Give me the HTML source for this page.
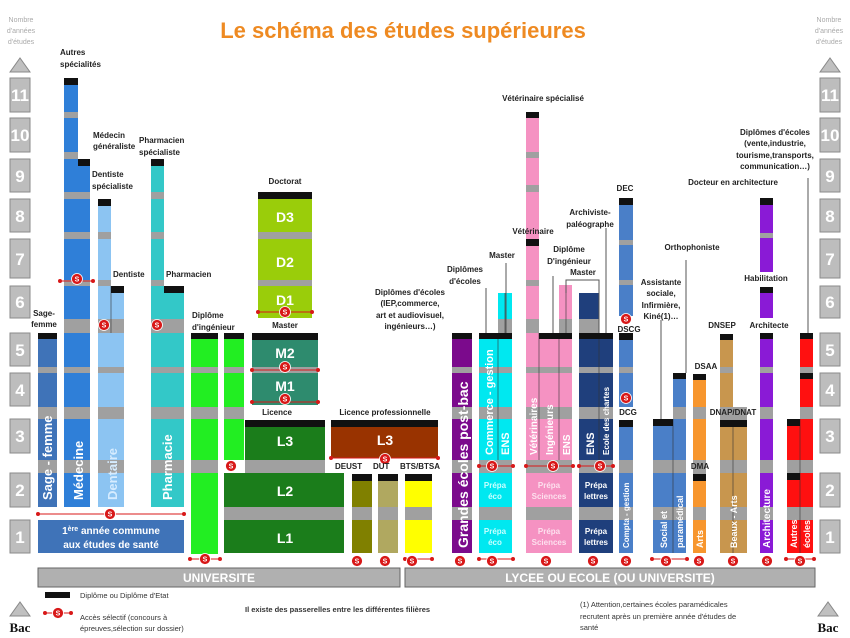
<!DOCTYPE html>
<html><head><meta charset="utf-8">
<style>
html,body{margin:0;padding:0;background:#fff;}
svg{display:block;font-family:"Liberation Sans",Arial,sans-serif;}
.g{fill:#a0a0a0}
.k{fill:#111}
.lb{font-size:8px;font-weight:bold;fill:#222}
.nb{fill:#bdbdbd;stroke:#8a8a8a;stroke-width:1}
.nt{font-size:17px;font-weight:bold;fill:#fff;text-anchor:middle}
.bw{font-weight:bold;fill:#fff;text-anchor:middle}
.vt{font-weight:bold;fill:#fff}
.sc{fill:#d81818;stroke:#fff;stroke-width:0.8}
.st{font-size:7px;font-weight:bold;fill:#fff;text-anchor:middle}
.rl{stroke:#d81818;stroke-width:1}
.ln{stroke:#555;stroke-width:1;fill:none}
.dv{stroke:#333;stroke-width:0.6}
</style></head><body>
<svg width="850" height="638" viewBox="0 0 850 638" xmlns="http://www.w3.org/2000/svg">
<!-- title -->
<text x="403" y="38" font-size="22" font-weight="bold" fill="#ee8a22" text-anchor="middle">Le schéma des études supérieures</text>
<g font-size="7" fill="#aaa" text-anchor="middle">
<text x="21" y="22">Nombre</text><text x="21" y="33">d'années</text><text x="21" y="44">d'études</text>
<text x="829" y="22">Nombre</text><text x="829" y="33">d'années</text><text x="829" y="44">d'études</text>
</g>
<polygon points="10,72 20,58 30,72" fill="#c0c0c0" stroke="#888"/>
<polygon points="820,72 830,58 840,72" fill="#c0c0c0" stroke="#888"/>

<!-- number boxes -->
<g>
<rect class="nb" x="10" y="78" width="20" height="34"/><rect class="nb" x="820" y="78" width="20" height="34"/>
<rect class="nb" x="10" y="118" width="20" height="34"/><rect class="nb" x="820" y="118" width="20" height="34"/>
<rect class="nb" x="10" y="159" width="20" height="33"/><rect class="nb" x="820" y="159" width="20" height="33"/>
<rect class="nb" x="10" y="199" width="20" height="33"/><rect class="nb" x="820" y="199" width="20" height="33"/>
<rect class="nb" x="10" y="239" width="20" height="39"/><rect class="nb" x="820" y="239" width="20" height="39"/>
<rect class="nb" x="10" y="286" width="20" height="32"/><rect class="nb" x="820" y="286" width="20" height="32"/>
<rect class="nb" x="10" y="333" width="20" height="33"/><rect class="nb" x="820" y="333" width="20" height="33"/>
<rect class="nb" x="10" y="373" width="20" height="33"/><rect class="nb" x="820" y="373" width="20" height="33"/>
<rect class="nb" x="10" y="419" width="20" height="34"/><rect class="nb" x="820" y="419" width="20" height="34"/>
<rect class="nb" x="10" y="473" width="20" height="34"/><rect class="nb" x="820" y="473" width="20" height="34"/>
<rect class="nb" x="10" y="520" width="20" height="33"/><rect class="nb" x="820" y="520" width="20" height="33"/>
</g>
<g class="nt">
<text x="20" y="101">11</text><text x="830" y="101">11</text>
<text x="20" y="141">10</text><text x="830" y="141">10</text>
<text x="20" y="182">9</text><text x="830" y="182">9</text>
<text x="20" y="222">8</text><text x="830" y="222">8</text>
<text x="20" y="265">7</text><text x="830" y="265">7</text>
<text x="20" y="308">6</text><text x="830" y="308">6</text>
<text x="20" y="356">5</text><text x="830" y="356">5</text>
<text x="20" y="396">4</text><text x="830" y="396">4</text>
<text x="20" y="442">3</text><text x="830" y="442">3</text>
<text x="20" y="496">2</text><text x="830" y="496">2</text>
<text x="20" y="543">1</text><text x="830" y="543">1</text>
</g>

<!-- Sage-femme -->
<rect x="38" y="333" width="19" height="174" fill="#3f73b8"/>
<rect class="g" x="38" y="460" width="19" height="13"/><rect class="g" x="38" y="407" width="19" height="12"/><rect class="g" x="38" y="367" width="19" height="6"/>
<rect class="k" x="38" y="333" width="19" height="6"/>
<!-- Médecine -->
<rect x="64" y="78" width="14" height="429" fill="#2f7fd8"/>
<rect x="78" y="159" width="12" height="348" fill="#2f7fd8"/>
<g class="g"><rect x="64" y="460" width="26" height="13"/><rect x="64" y="407" width="26" height="12"/><rect x="64" y="367" width="26" height="6"/><rect x="64" y="319" width="26" height="14"/><rect x="64" y="280" width="26" height="6"/><rect x="64" y="232" width="26" height="7"/><rect x="64" y="192" width="26" height="7"/><rect x="64" y="152" width="14" height="7"/><rect x="64" y="112" width="14" height="6"/></g>
<rect class="k" x="64" y="78" width="14" height="7"/><rect class="k" x="78" y="159" width="12" height="7"/>
<!-- Dentaire -->
<rect x="98" y="199" width="13" height="308" fill="#8cc4f2"/>
<rect x="111" y="286" width="13" height="221" fill="#8cc4f2"/>
<g class="g"><rect x="98" y="460" width="26" height="13"/><rect x="98" y="407" width="26" height="12"/><rect x="98" y="367" width="26" height="6"/><rect x="98" y="319" width="26" height="14"/><rect x="98" y="280" width="13" height="6"/><rect x="98" y="232" width="13" height="7"/></g>
<line class="dv" x1="111" y1="286" x2="111" y2="333"/>
<rect class="k" x="98" y="199" width="13" height="7"/><rect class="k" x="111" y="286" width="13" height="7"/>
<!-- Pharmacie -->
<rect x="151" y="159" width="13" height="348" fill="#33c8c8"/>
<rect x="164" y="286" width="20" height="221" fill="#33c8c8"/>
<g class="g"><rect x="151" y="460" width="33" height="13"/><rect x="151" y="407" width="33" height="12"/><rect x="151" y="367" width="33" height="6"/><rect x="151" y="319" width="33" height="14"/><rect x="151" y="280" width="13" height="6"/><rect x="151" y="232" width="13" height="7"/><rect x="151" y="192" width="13" height="7"/></g>
<rect class="k" x="151" y="159" width="13" height="7"/><rect class="k" x="164" y="286" width="20" height="7"/>
<!-- common year -->
<rect x="38" y="520" width="146" height="33" fill="#3f73b8"/>
<text class="bw" x="111" y="534" font-size="10">1<tspan font-size="7" dy="-3">ère</tspan><tspan dy="3"> année commune</tspan></text>
<text class="bw" x="111" y="548" font-size="10">aux études de santé</text>
<g class="vt" font-size="13">
<text transform="translate(52,500) rotate(-90)">Sage - femme</text>
<text transform="translate(83,500) rotate(-90)">Médecine</text>
<text transform="translate(117,500) rotate(-90)" fill="#d6ecff">Dentaire</text>
<text transform="translate(172,500) rotate(-90)">Pharmacie</text>
</g>

<!-- Ingénieur -->
<rect x="191" y="333" width="27" height="221" fill="#22ee22"/>
<g class="g"><rect x="191" y="460" width="27" height="13"/><rect x="191" y="407" width="27" height="12"/><rect x="191" y="367" width="27" height="6"/></g>
<rect class="k" x="191" y="333" width="27" height="6"/>
<rect x="224" y="333" width="20" height="127" fill="#22ee22"/>
<g class="g"><rect x="224" y="407" width="20" height="12"/><rect x="224" y="367" width="20" height="6"/></g>
<rect class="k" x="224" y="333" width="20" height="6"/>
<!-- Licence -->
<rect x="245" y="420" width="80" height="40" fill="#1b7d1b"/><rect class="k" x="245" y="420" width="80" height="7"/>
<rect class="g" x="245" y="460" width="80" height="13"/>
<rect x="224" y="473" width="120" height="34" fill="#1b7d1b"/>
<rect class="g" x="224" y="507" width="120" height="13"/>
<rect x="224" y="520" width="120" height="33" fill="#1b7d1b"/>
<!-- Master -->
<rect x="252" y="333" width="66" height="72" fill="#2e8b6e"/><rect class="k" x="252" y="333" width="66" height="7"/>
<rect class="g" x="252" y="367" width="66" height="6"/>
<!-- Doctorat -->
<rect x="258" y="192" width="54" height="126" fill="#9acd0a"/><rect class="k" x="258" y="192" width="54" height="7"/>
<rect class="g" x="258" y="232" width="54" height="7"/><rect class="g" x="258" y="280" width="54" height="6"/>
<g class="bw" font-size="14">
<text x="285" y="222">D3</text><text x="285" y="267">D2</text><text x="285" y="305">D1</text>
<text x="285" y="358">M2</text><text x="285" y="391">M1</text>
<text x="285" y="446">L3</text><text x="285" y="496">L2</text><text x="285" y="543">L1</text>
<text x="385" y="445">L3</text>
</g>
<!-- Licence pro -->
<rect x="331" y="420" width="107" height="38" fill="#993300"/><rect class="k" x="331" y="420" width="107" height="7"/>
<g font-size="14" class="bw"><text x="385" y="445">L3</text></g>
<!-- DEUST DUT BTS -->
<rect x="352" y="474" width="20" height="79" fill="#808000"/><rect class="g" x="352" y="507" width="20" height="13"/><rect class="k" x="352" y="474" width="20" height="7"/>
<rect x="378" y="474" width="20" height="79" fill="#b0a860"/><rect class="g" x="378" y="507" width="20" height="13"/><rect class="k" x="378" y="474" width="20" height="7"/>
<rect x="405" y="474" width="27" height="79" fill="#ffff00"/><rect class="g" x="405" y="507" width="27" height="13"/><rect class="k" x="405" y="474" width="27" height="7"/>

<!-- Grandes écoles -->
<rect x="452" y="333" width="20" height="220" fill="#7b0a8c"/>
<g class="g"><rect x="452" y="507" width="20" height="13"/><rect x="452" y="460" width="20" height="13"/><rect x="452" y="407" width="20" height="12"/><rect x="452" y="367" width="20" height="6"/></g>
<rect class="k" x="452" y="333" width="20" height="6"/>
<text class="vt" font-size="14" transform="translate(468,548) rotate(-90)">Grandes écoles post-bac</text>
<!-- Commerce -->
<rect x="479" y="333" width="33" height="220" fill="#00e8f0"/>
<rect x="498" y="293" width="14" height="40" fill="#00e8f0"/>
<g class="g"><rect x="479" y="507" width="33" height="13"/><rect x="479" y="460" width="33" height="13"/><rect x="479" y="407" width="33" height="12"/><rect x="479" y="367" width="33" height="6"/><rect x="498" y="319" width="14" height="14"/></g>
<line class="dv" x1="498" y1="333" x2="498" y2="460"/><line class="dv" x1="505" y1="293" x2="505" y2="333"/>
<rect class="k" x="479" y="333" width="33" height="6"/>
<text class="vt" font-size="11" transform="translate(493,455) rotate(-90)" fill="#c8ffff">Commerce - gestion</text>
<text class="vt" font-size="11" transform="translate(509,455) rotate(-90)" fill="#c8ffff">ENS</text>
<g font-size="8" font-weight="bold" fill="#c8ffff" text-anchor="middle">
<text x="495" y="488">Prépa</text><text x="495" y="499">éco</text>
<text x="495" y="534">Prépa</text><text x="495" y="545">éco</text>
</g>
<!-- Pink -->
<rect x="526" y="333" width="46" height="220" fill="#f592c2"/>
<rect x="526" y="112" width="13" height="221" fill="#f592c2"/>
<rect x="559" y="285" width="13" height="48" fill="#f592c2"/>
<g class="g"><rect x="526" y="507" width="46" height="13"/><rect x="526" y="460" width="46" height="13"/><rect x="526" y="407" width="46" height="12"/><rect x="526" y="367" width="46" height="6"/><rect x="526" y="319" width="13" height="14"/><rect x="559" y="319" width="13" height="14"/><rect x="526" y="280" width="13" height="6"/><rect x="526" y="185" width="13" height="7"/><rect x="526" y="152" width="13" height="6"/></g>
<line class="dv" x1="539" y1="333" x2="539" y2="460"/><line class="dv" x1="559" y1="333" x2="559" y2="460"/><line class="dv" x1="566" y1="285" x2="566" y2="333"/>
<rect class="k" x="526" y="112" width="13" height="6"/><rect class="k" x="526" y="239" width="13" height="7"/>
<rect class="k" x="539" y="333" width="33" height="6"/>
<g class="vt" font-size="10" fill="#fde0ee">
<text transform="translate(537,455) rotate(-90)">Vétérinaires</text>
<text transform="translate(553,455) rotate(-90)">Ingénieurs</text>
<text transform="translate(570,455) rotate(-90)">ENS</text>
</g>
<g font-size="8" font-weight="bold" fill="#fde0ee" text-anchor="middle">
<text x="549" y="488">Prépa</text><text x="549" y="499">Sciences</text>
<text x="549" y="534">Prépa</text><text x="549" y="545">Sciences</text>
</g>
<!-- ENS chartes -->
<rect x="579" y="333" width="34" height="220" fill="#1f3f7c"/>
<rect x="579" y="293" width="20" height="40" fill="#1f3f7c"/>
<g class="g"><rect x="579" y="507" width="34" height="13"/><rect x="579" y="460" width="34" height="13"/><rect x="579" y="407" width="34" height="12"/><rect x="579" y="367" width="34" height="6"/><rect x="579" y="319" width="20" height="14"/></g>
<line class="dv" x1="599" y1="333" x2="599" y2="460"/>
<rect class="k" x="579" y="333" width="34" height="6"/>
<text class="vt" font-size="11" transform="translate(594,455) rotate(-90)">ENS</text>
<text class="vt" font-size="8" transform="translate(609,455) rotate(-90)">Ecole des chartes</text>
<g font-size="8" font-weight="bold" fill="#fff" text-anchor="middle">
<text x="596" y="488">Prépa</text><text x="596" y="499">lettres</text>
<text x="596" y="534">Prépa</text><text x="596" y="545">lettres</text>
</g>
<!-- Compta -->
<rect x="619" y="420" width="14" height="133" fill="#4a7fc8"/>
<rect x="619" y="333" width="14" height="74" fill="#4a7fc8"/>
<rect x="619" y="198" width="14" height="118" fill="#4a7fc8"/>
<g class="g"><rect x="619" y="507" width="14" height="13"/><rect x="619" y="460" width="14" height="13"/><rect x="619" y="367" width="14" height="6"/><rect x="619" y="240" width="14" height="5"/><rect x="619" y="280" width="14" height="5"/></g>
<rect class="k" x="619" y="420" width="14" height="7"/><rect class="k" x="619" y="333" width="14" height="7"/><rect class="k" x="619" y="198" width="14" height="7"/>
<text class="vt" font-size="8" transform="translate(629,548) rotate(-90)">Compta - gestion</text>
<!-- Social -->
<rect x="653" y="419" width="20" height="134" fill="#4a7fc8"/>
<rect x="673" y="373" width="13" height="180" fill="#4a7fc8"/>
<g class="g"><rect x="653" y="507" width="33" height="13"/><rect x="653" y="460" width="33" height="13"/><rect x="673" y="407" width="13" height="12"/></g>
<line class="dv" x1="673" y1="419" x2="673" y2="553"/>
<rect class="k" x="653" y="419" width="20" height="7"/><rect class="k" x="673" y="373" width="13" height="6"/>
<text class="vt" font-size="9" transform="translate(667,548) rotate(-90)">Social et</text>
<text class="vt" font-size="9" transform="translate(683,548) rotate(-90)">paramédical</text>
<!-- Arts -->
<rect x="693" y="374" width="13" height="179" fill="#f7962e"/>
<g class="g"><rect x="693" y="507" width="13" height="13"/><rect x="693" y="460" width="13" height="14"/><rect x="693" y="407" width="13" height="12"/></g>
<rect class="k" x="693" y="474" width="13" height="7"/><rect class="k" x="693" y="374" width="13" height="6"/>
<text class="vt" font-size="9" transform="translate(703,548) rotate(-90)">Arts</text>
<!-- Beaux Arts -->
<rect x="720" y="420" width="27" height="133" fill="#c8964e"/>
<rect x="720" y="334" width="13" height="73" fill="#c8964e"/>
<g class="g"><rect x="720" y="507" width="27" height="13"/><rect x="720" y="460" width="27" height="13"/><rect x="720" y="407" width="27" height="13"/><rect x="720" y="367" width="13" height="6"/></g>
<line class="dv" x1="733" y1="420" x2="733" y2="553"/>
<rect class="k" x="720" y="420" width="27" height="7"/><rect class="k" x="720" y="334" width="13" height="6"/>
<text class="vt" font-size="9" transform="translate(737,548) rotate(-90)">Beaux - Arts</text>
<!-- Architecture -->
<rect x="760" y="333" width="13" height="220" fill="#8a1ad6"/>
<rect x="760" y="287" width="13" height="31" fill="#8a1ad6"/>
<rect x="760" y="198" width="13" height="74" fill="#8a1ad6"/>
<g class="g"><rect x="760" y="507" width="13" height="13"/><rect x="760" y="460" width="13" height="13"/><rect x="760" y="407" width="13" height="12"/><rect x="760" y="367" width="13" height="6"/><rect x="760" y="233" width="13" height="5"/></g>
<rect class="k" x="760" y="333" width="13" height="6"/><rect class="k" x="760" y="287" width="13" height="6"/><rect class="k" x="760" y="198" width="13" height="7"/>
<text class="vt" font-size="10" transform="translate(770,548) rotate(-90)">Architecture</text>
<!-- Autres écoles -->
<rect x="787" y="419" width="13" height="134" fill="#ff1010"/>
<rect x="800" y="333" width="13" height="220" fill="#ff1010"/>
<g class="g"><rect x="787" y="507" width="26" height="13"/><rect x="787" y="460" width="26" height="13"/><rect x="800" y="407" width="13" height="12"/><rect x="800" y="367" width="13" height="6"/></g>
<line class="dv" x1="800" y1="419" x2="800" y2="553"/>
<rect class="k" x="787" y="419" width="13" height="7"/><rect class="k" x="787" y="473" width="13" height="7"/>
<rect class="k" x="800" y="333" width="13" height="6"/><rect class="k" x="800" y="373" width="13" height="6"/>
<text class="vt" font-size="9" transform="translate(797,548) rotate(-90)">Autres</text>
<text class="vt" font-size="9" transform="translate(810,548) rotate(-90)">écoles</text>

<!-- connector lines -->
<g class="ln">
<line x1="808" y1="178" x2="808" y2="333"/>
<line x1="686" y1="260" x2="686" y2="373"/>
<line x1="661" y1="320" x2="661" y2="419"/>
<line x1="506" y1="263" x2="506" y2="333"/>
<line x1="486" y1="288" x2="486" y2="333"/>
<line x1="606" y1="228" x2="606" y2="333"/>
<line x1="553" y1="276" x2="553" y2="333"/>
<polyline points="566,293 566,280 599,280 599,333"/>
</g>

<!-- bottom bars -->
<rect x="38" y="568" width="362" height="19" fill="#b0b0b0" stroke="#666"/>
<rect x="405" y="568" width="410" height="19" fill="#b0b0b0" stroke="#666"/>
<text class="bw" x="219" y="582" font-size="12">UNIVERSITE</text>
<text class="bw" x="610" y="582" font-size="12">LYCEE OU ECOLE (OU UNIVERSITE)</text>

<!-- red selection lines -->
<g class="rl">
<line x1="60" y1="281" x2="93" y2="281"/>
<line x1="38" y1="514" x2="184" y2="514"/>
<line x1="190" y1="559" x2="220" y2="559"/>
<line x1="258" y1="312" x2="312" y2="312"/>
<line x1="252" y1="370" x2="318" y2="370"/>
<line x1="252" y1="402" x2="318" y2="402"/>
<line x1="331" y1="458" x2="438" y2="458"/>
<line x1="405" y1="559" x2="432" y2="559"/>
<line x1="479" y1="466" x2="513" y2="466"/>
<line x1="526" y1="466" x2="573" y2="466"/>
<line x1="579" y1="466" x2="613" y2="466"/>
<line x1="479" y1="559" x2="513" y2="559"/>
<line x1="652" y1="559" x2="687" y2="559"/>
<line x1="786" y1="559" x2="814" y2="559"/>
</g>
<g fill="#d81818">
<circle cx="60" cy="281" r="2"/><circle cx="93" cy="281" r="2"/><circle cx="38" cy="514" r="2"/><circle cx="184" cy="514" r="2"/>
<circle cx="190" cy="559" r="2"/><circle cx="220" cy="559" r="2"/><circle cx="258" cy="312" r="2"/><circle cx="312" cy="312" r="2"/>
<circle cx="252" cy="370" r="2"/><circle cx="318" cy="370" r="2"/><circle cx="252" cy="402" r="2"/><circle cx="318" cy="402" r="2"/>
<circle cx="331" cy="458" r="2"/><circle cx="438" cy="458" r="2"/><circle cx="405" cy="559" r="2"/><circle cx="432" cy="559" r="2"/>
<circle cx="479" cy="466" r="2"/><circle cx="513" cy="466" r="2"/><circle cx="526" cy="466" r="2"/><circle cx="573" cy="466" r="2"/>
<circle cx="579" cy="466" r="2"/><circle cx="613" cy="466" r="2"/><circle cx="479" cy="559" r="2"/><circle cx="513" cy="559" r="2"/>
<circle cx="652" cy="559" r="2"/><circle cx="687" cy="559" r="2"/><circle cx="786" cy="559" r="2"/><circle cx="814" cy="559" r="2"/>
</g>
<!-- S markers -->
<g>
<circle class="sc" cx="77" cy="279" r="5.5"/><text class="st" x="77" y="281.5">S</text>
<circle class="sc" cx="104" cy="325" r="5.5"/><text class="st" x="104" y="327.5">S</text>
<circle class="sc" cx="157" cy="325" r="5.5"/><text class="st" x="157" y="327.5">S</text>
<circle class="sc" cx="110" cy="514" r="5.5"/><text class="st" x="110" y="516.5">S</text>
<circle class="sc" cx="205" cy="559" r="5.5"/><text class="st" x="205" y="561.5">S</text>
<circle class="sc" cx="231" cy="466" r="5.5"/><text class="st" x="231" y="468.5">S</text>
<circle class="sc" cx="285" cy="312" r="5.5"/><text class="st" x="285" y="314.5">S</text>
<circle class="sc" cx="285" cy="367" r="5.5"/><text class="st" x="285" y="369.5">S</text>
<circle class="sc" cx="285" cy="399" r="5.5"/><text class="st" x="285" y="401.5">S</text>
<circle class="sc" cx="385" cy="459" r="5.5"/><text class="st" x="385" y="461.5">S</text>
<circle class="sc" cx="492" cy="466" r="5.5"/><text class="st" x="492" y="468.5">S</text>
<circle class="sc" cx="553" cy="466" r="5.5"/><text class="st" x="553" y="468.5">S</text>
<circle class="sc" cx="600" cy="466" r="5.5"/><text class="st" x="600" y="468.5">S</text>
<circle class="sc" cx="626" cy="319" r="5.5"/><text class="st" x="626" y="321.5">S</text>
<circle class="sc" cx="626" cy="398" r="5.5"/><text class="st" x="626" y="400.5">S</text>
<circle class="sc" cx="357" cy="561" r="5.5"/><text class="st" x="357" y="563.5">S</text>
<circle class="sc" cx="385" cy="561" r="5.5"/><text class="st" x="385" y="563.5">S</text>
<circle class="sc" cx="412" cy="561" r="5.5"/><text class="st" x="412" y="563.5">S</text>
<circle class="sc" cx="460" cy="561" r="5.5"/><text class="st" x="460" y="563.5">S</text>
<circle class="sc" cx="492" cy="561" r="5.5"/><text class="st" x="492" y="563.5">S</text>
<circle class="sc" cx="546" cy="561" r="5.5"/><text class="st" x="546" y="563.5">S</text>
<circle class="sc" cx="593" cy="561" r="5.5"/><text class="st" x="593" y="563.5">S</text>
<circle class="sc" cx="626" cy="561" r="5.5"/><text class="st" x="626" y="563.5">S</text>
<circle class="sc" cx="666" cy="561" r="5.5"/><text class="st" x="666" y="563.5">S</text>
<circle class="sc" cx="699" cy="561" r="5.5"/><text class="st" x="699" y="563.5">S</text>
<circle class="sc" cx="733" cy="561" r="5.5"/><text class="st" x="733" y="563.5">S</text>
<circle class="sc" cx="767" cy="561" r="5.5"/><text class="st" x="767" y="563.5">S</text>
<circle class="sc" cx="800" cy="561" r="5.5"/><text class="st" x="800" y="563.5">S</text>
</g>

<!-- labels -->
<g class="lb">
<text x="60" y="55">Autres</text><text x="60" y="67">spécialités</text>
<text x="93" y="138">Médecin</text><text x="93" y="149">généraliste</text>
<text x="139" y="143">Pharmacien</text><text x="139" y="155">spécialiste</text>
<text x="92" y="177">Dentiste</text><text x="92" y="189">spécialiste</text>
<text x="113" y="277">Dentiste</text><text x="166" y="277">Pharmacien</text>
<text x="44" y="316" text-anchor="middle">Sage-</text><text x="44" y="327" text-anchor="middle">femme</text>
<text x="192" y="318">Diplôme</text><text x="192" y="330">d'ingénieur</text>
<text x="285" y="184" text-anchor="middle">Doctorat</text>
<text x="285" y="328" text-anchor="middle">Master</text>
<text x="277" y="415" text-anchor="middle">Licence</text>
<text x="385" y="415" text-anchor="middle">Licence professionnelle</text>
<text x="335" y="469">DEUST</text><text x="373" y="469">DUT</text><text x="400" y="469">BTS/BTSA</text>
<text x="410" y="295" text-anchor="middle">Diplômes d'écoles</text>
<text x="410" y="306" text-anchor="middle">(IEP,commerce,</text>
<text x="410" y="318" text-anchor="middle">art et audiovisuel,</text>
<text x="410" y="329" text-anchor="middle">ingénieurs…)</text>
<text x="465" y="272" text-anchor="middle">Diplômes</text><text x="465" y="284" text-anchor="middle">d'écoles</text>
<text x="502" y="258" text-anchor="middle">Master</text>
<text x="543" y="101" text-anchor="middle">Vétérinaire spécialisé</text>
<text x="533" y="234" text-anchor="middle">Vétérinaire</text>
<text x="569" y="252" text-anchor="middle">Diplôme</text><text x="569" y="264" text-anchor="middle">D'ingénieur</text><text x="583" y="275" text-anchor="middle">Master</text>
<text x="590" y="215" text-anchor="middle">Archiviste-</text><text x="590" y="227" text-anchor="middle">paléographe</text>
<text x="625" y="191" text-anchor="middle">DEC</text>
<text x="661" y="285" text-anchor="middle">Assistante</text><text x="661" y="296" text-anchor="middle">sociale,</text><text x="661" y="308" text-anchor="middle">Infirmière,</text><text x="661" y="319" text-anchor="middle">Kiné(1)…</text>
<text x="629" y="332" text-anchor="middle">DSCG</text>
<text x="628" y="415" text-anchor="middle">DCG</text>
<text x="692" y="250" text-anchor="middle">Orthophoniste</text>
<text x="706" y="369" text-anchor="middle">DSAA</text>
<text x="733" y="415" text-anchor="middle">DNAP/DNAT</text>
<text x="700" y="469" text-anchor="middle">DMA</text>
<text x="722" y="328" text-anchor="middle">DNSEP</text>
<text x="769" y="328" text-anchor="middle">Architecte</text>
<text x="766" y="281" text-anchor="middle">Habilitation</text>
<text x="733" y="185" text-anchor="middle">Docteur en architecture</text>
<text x="775" y="135" text-anchor="middle">Diplômes d'écoles</text>
<text x="775" y="146" text-anchor="middle">(vente,industrie,</text>
<text x="775" y="158" text-anchor="middle">tourisme,transports,</text>
<text x="775" y="169" text-anchor="middle">communication…)</text>
</g>

<!-- legend -->
<rect x="45" y="592" width="25" height="6" fill="#111"/>
<text x="80" y="598" font-size="7.5" fill="#333">Diplôme ou Diplôme d'Etat</text>
<line class="rl" x1="45" y1="613" x2="71" y2="613"/>
<circle cx="45" cy="613" r="2" fill="#d81818"/><circle cx="71" cy="613" r="2" fill="#d81818"/>
<circle class="sc" cx="58" cy="613" r="5.5"/><text class="st" x="58" y="615.5">S</text>
<text x="80" y="620" font-size="7.5" fill="#333">Accès sélectif (concours à</text>
<text x="80" y="631" font-size="7.5" fill="#333">épreuves,sélection sur dossier)</text>
<text x="245" y="612" font-size="7.5" font-weight="bold" fill="#333">Il existe des passerelles entre les différentes filières</text>
<text x="580" y="607" font-size="7.5" fill="#333">(1) Attention,certaines écoles paramédicales</text>
<text x="580" y="619" font-size="7.5" fill="#333">recrutent après un première année d'études de</text>
<text x="580" y="630" font-size="7.5" fill="#333">santé</text>
<polygon points="10,616 20,602 30,616" fill="#c0c0c0" stroke="#888"/>
<polygon points="818,616 828,602 838,616" fill="#c0c0c0" stroke="#888"/>
<text x="20" y="632" font-family="Liberation Serif,serif" font-size="13" font-weight="bold" text-anchor="middle" fill="#111">Bac</text>
<text x="828" y="632" font-family="Liberation Serif,serif" font-size="13" font-weight="bold" text-anchor="middle" fill="#111">Bac</text>
</svg>
</body></html>
